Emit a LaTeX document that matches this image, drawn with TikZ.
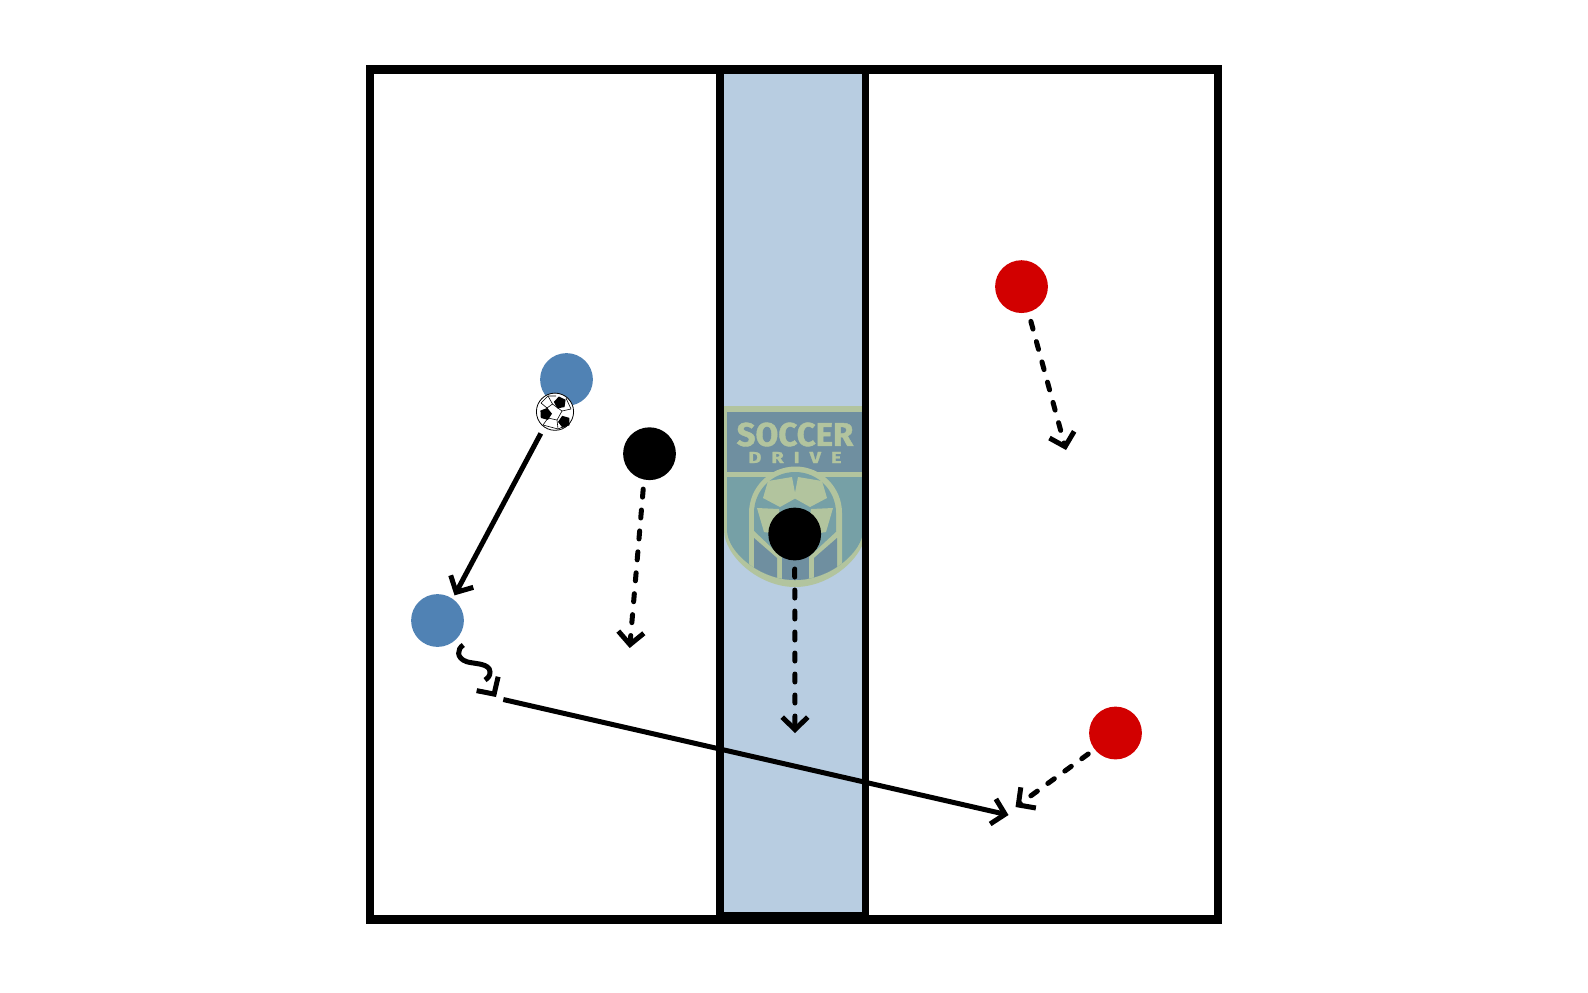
\documentclass[tikz,border=0pt]{standalone}
\usepackage{fontspec}
\setmainfont{Fira Sans}
\newfontfamily\soccerfont[FakeBold=1.2]{Fira Sans Bold}
\newfontfamily\drivefont[FakeBold=1.5,FakeStretch=1.25]{Fira Sans Bold}
\usetikzlibrary{arrows.meta}
\definecolor{zoneblue}{HTML}{B8CDE1}
\definecolor{teamblue}{HTML}{5082B4}
\definecolor{teamred}{HTML}{D20000}
\definecolor{logolight}{HTML}{B2C49E}
\definecolor{logoband}{HTML}{6F8FA0}
\definecolor{logoteal}{HTML}{76A0A6}
\begin{document}
\begin{tikzpicture}[x=.5pt,y=-.5pt,
    player/.style={circle,minimum size=26.4pt,inner sep=0pt,outer sep=0pt},
    barb/.style={-{Straight Barb[length=6.2pt,width=12.8pt]},line width=2.5pt},
    pass/.style={barb,shorten >=2pt,shorten <=3.5pt},
    run/.style={barb,line cap=round,dash pattern=on 4pt off 6.5pt},
    seam/.style={line width=.3pt}]

    \def\shieldout{(724,406) -- (866,406) -- (866,530) .. controls (866,555) and (832,587) .. (795,587) .. controls (758,587) and (724,555) .. (724,530) -- cycle}
    \def\shieldin#1{(727,#1) -- (863,#1) -- (863,530) .. controls (863,552) and (830,580) .. (795,580) .. controls (760,580) and (727,552) .. (727,530) -- cycle}
    \def\universe{(370,69.5) rectangle (1218,919.5)}
    \useasboundingbox (0,0) rectangle (1588,992);

    %Color stuff:
    \fill[zoneblue] (719.7,69.5) rectangle (865.5,917);

    %logo:
    \fill[logolight] \shieldout;
    \fill[logoband] (727,412) rectangle (863,472);
    \fill[logoteal] \shieldin{477};
    \begin{scope}
        \clip \shieldin{460};
        \fill[logolight] (749,590) -- (749,513) arc (180:360:46.5) -- (842,590) -- cycle;
        \fill[logoteal] (754,590) -- (754,513) arc (180:360:41) -- (837,590) -- cycle;
        \fill[logolight] (768,481) -- (792,477) -- (796,498) -- (780,507) -- (763,498) -- cycle;
        \fill[logolight] (822,481) -- (798,477) -- (794,498) -- (810,507) -- (827,498) -- cycle;
        \fill[logolight] (757,508) -- (779,509) -- (783,535) -- (764,532) -- cycle;
        \fill[logolight] (833,508) -- (811,509) -- (807,535) -- (826,532) -- cycle;
        \fill[logolight] (754,531) -- (795,570) -- (837,531) -- (837,590) -- (754,590) -- cycle;
        \fill[logoband] (754,538) -- (777,558) -- (777,590) -- (754,590) -- cycle;
        \fill[logoband] (782,550) rectangle (809,590);
        \fill[logoband] (837,538) -- (814,558) -- (814,590) -- (837,590) -- cycle;
    \end{scope}
    \node[text=logolight,font=\soccerfont\fontsize{16.5}{18}\selectfont,inner sep=0pt] (soccer) at (795,434.5) {SOCCER};
    \node[text=logolight,font=\drivefont\fontsize{8}{9}\selectfont,inner sep=0pt,anchor=west] (drive) at (748,457.5) {D\kern5pt R\kern5pt I\kern5pt V\kern5pt E};

    %draw lines:
    \draw[line width=4.4pt] \universe;
    \draw[line width=3.8pt] (719.7,69.5) -- (719.7,917);
    \draw[line width=3.8pt] (865.5,69.5) -- (865.5,917);
    \draw[line width=2pt] (719.7,914) -- (865.5,914);

    %players:
    \node[player,fill=teamblue] (blueA) at (566.5,379.5) {};
    \node[player,fill=teamblue] (blueB) at (437.5,620.5) {};
    \node[player,fill=black] (blackA) at (649.5,453.7) {};
    \node[player,fill=black] (blackB) at (794.7,534) {};
    \node[player,fill=teamred] (redA) at (1021.5,286.6) {};
    \node[player,fill=teamred] (redB) at (1115.5,733) {};

    %ball:
    \node[circle,draw,fill=white,line width=.4pt,minimum size=18.6pt,inner sep=0pt] (ball) at (555,411.7) {};
    \foreach \cx/\cy/\rr/\tw in {560/402.7/6.3/190,545.7/414/6.3/165,564.3/421.7/6.3/200}
        \fill[shift={(\cx,\cy)},rotate=\tw] (90:\rr) -- (162:\rr) -- (234:\rr) -- (306:\rr) -- (18:\rr) -- cycle;
    \draw[seam] (552.5,404) -- (562,411) -- (557,420) -- (548,418) -- (547,408) -- cycle;
    \draw[seam] (552.5,404) -- (548,396) (562,411) -- (571,409) (557,420) -- (558,429) (548,418) -- (543,425) (547,408) -- (541,403);
    \draw[seam] (556,396) -- (548,396) -- (541,403) (566,398) -- (571,409) (569,424) -- (558,429) -- (543,425);

    %arrows:
    \coordinate (blackAend) at (629.7,648);
    \coordinate (blackBend) at (795,733);
    \coordinate (redAend) at (1066,450);
    \coordinate (redBend) at (1015.5,807);
    \coordinate (dribblestart) at (463.3,645);
    \coordinate (dribblemid) at (485,680);
    \coordinate (dribbleend) at (496,697);
    \coordinate (longstart) at (503.3,699.5);
    \coordinate (longend) at (1008.5,815);

    \draw[pass] (ball.235) -- (blueB.55);
    \draw[run,shorten <=4.8pt] (blackA.258) -- (blackAend);
    \draw[run,shorten <=4.3pt] (blackB.south) -- (blackBend);
    \draw[run,shorten <=4.8pt] (redA.285) -- (redAend);
    \draw[run,shorten <=4pt] (redB.218) -- (redBend);
    \draw[line width=2.5pt] (dribblestart) .. controls (457,649) and (456,658) .. (466.7,661.7)
        .. controls (474,664) and (490,663) .. (490,672) .. controls (490,676) and (488,678) .. (dribblemid);
    \draw[barb,dash pattern=on 0pt off 30pt] (dribblemid) -- (dribbleend);
    \draw[barb] (longstart) -- (longend);

\end{tikzpicture}
\end{document}
